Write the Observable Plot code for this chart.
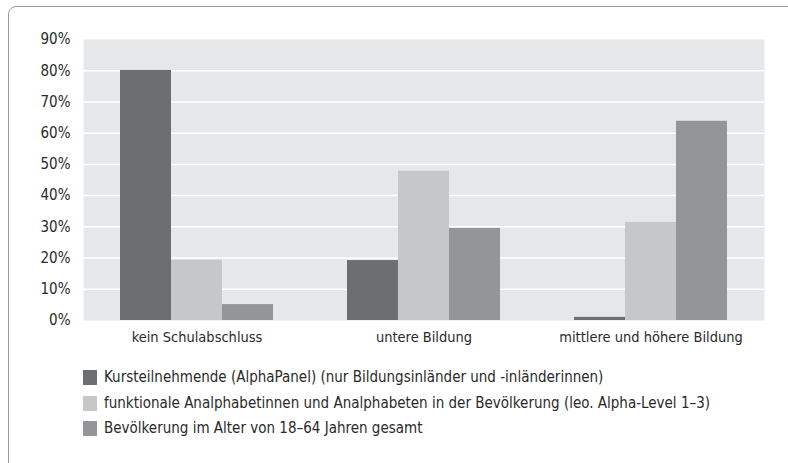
<!DOCTYPE html>
<html>
<head>
<meta charset="utf-8">
<script src="https://cdn.jsdelivr.net/npm/d3@7"></script>
<script src="https://cdn.jsdelivr.net/npm/@observablehq/plot@0.6"></script>
<style>
  html, body { margin: 0; padding: 0; background: #fff; overflow: hidden; width: 788px; height: 463px; }
  body { position: relative; font-family: "DejaVu Sans Condensed", "Liberation Sans Narrow", sans-serif; color: #2a2a2a; }
  #border { position: absolute; left: 8px; top: 6px; width: 900px; height: 600px; border: 1.5px solid #9d9d9d; border-top-left-radius: 8px; box-sizing: border-box; pointer-events: none; z-index: 10; }
  .layer { position: absolute; left: 0; top: 0; }
  .layer svg { background: transparent !important; }
  #legend { position: absolute; left: 83px; top: 365px; font-size: 15px; line-height: 25.5px; }
  .row { display: flex; align-items: center; white-space: nowrap; }
  .sw { width: 14px; height: 15px; margin-right: 7px; flex: none; }
</style>
</head>
<body>
<div id="back" class="layer"></div>
<div id="chart" class="layer"></div>
<div id="legend"></div>
<div id="border"></div>
<script>
const categories = ["kein Schulabschluss", "untere Bildung", "mittlere und höhere Bildung"];
const seriesNames = [
  "Kursteilnehmende (AlphaPanel) (nur Bildungsinländer und -inländerinnen)",
  "funktionale Analphabetinnen und Analphabeten in der Bevölkerung (leo. Alpha-Level 1–3)",
  "Bevölkerung im Alter von 18–64 Jahren gesamt"
];
const kursteilnehmende = [80.1, 19.2, 1.0];
const funktionaleAnalphabeten = [19.3, 47.8, 31.4];
const bevoelkerungGesamt = [5.1, 29.5, 63.8];
const colors = ["#6d6e71", "#c6c7c8", "#939598"];
const yTicks = [0, 10, 20, 30, 40, 50, 60, 70, 80, 90];
const gridTicks = [10, 20, 30, 40, 50, 60, 70, 80];

const seriesValues = [kursteilnehmende, funktionaleAnalphabeten, bevoelkerungGesamt];
const data = [];
categories.forEach((c, i) => {
  seriesNames.forEach((s, j) => data.push({category: c, series: s, value: seriesValues[j][i]}));
});

const common = {
  width: 788,
  height: 350,
  marginLeft: 83,
  marginRight: 24,
  marginTop: 39,
  marginBottom: 30,
  style: {fontFamily: "'DejaVu Sans Condensed', 'Liberation Sans Narrow', sans-serif", color: "#2a2a2a", background: "transparent"}
};

// background layer: plot area, white gridlines, y axis
const back = Plot.plot({
  ...common,
  x: {domain: categories, axis: null},
  y: {domain: [0, 90], axis: null},
  marks: [
    Plot.frame({fill: "#e6e7e9", stroke: null}),
    Plot.ruleY(gridTicks, {stroke: "#ffffff", strokeWidth: 1.5}),
    Plot.axisY(yTicks, {tickSize: 0, tickPadding: 13, tickFormat: d => d + "%", fontSize: 15, label: null})
  ]
});
document.getElementById("back").appendChild(back);

// bars layer: grouped bars with category facets
const chart = Plot.plot({
  ...common,
  fx: {domain: categories, paddingInner: 0.326, paddingOuter: 0.163, label: null},
  x: {domain: seriesNames, axis: null, padding: 0},
  y: {domain: [0, 90], axis: null},
  color: {domain: seriesNames, range: colors},
  marks: [
    Plot.barY(data, {fx: "category", x: "series", y: "value", fill: "series", inset: 0}),
    Plot.axisFx({anchor: "bottom", tickSize: 0, tickPadding: 11, fontSize: 14.5, label: null})
  ]
});
document.getElementById("chart").appendChild(chart);

const legend = document.getElementById("legend");
seriesNames.forEach((s, j) => {
  const row = document.createElement("div");
  row.className = "row";
  const sw = document.createElement("span");
  sw.className = "sw";
  sw.style.background = colors[j];
  const t = document.createElement("span");
  t.textContent = s;
  row.appendChild(sw);
  row.appendChild(t);
  legend.appendChild(row);
});
</script>
</body>
</html>
